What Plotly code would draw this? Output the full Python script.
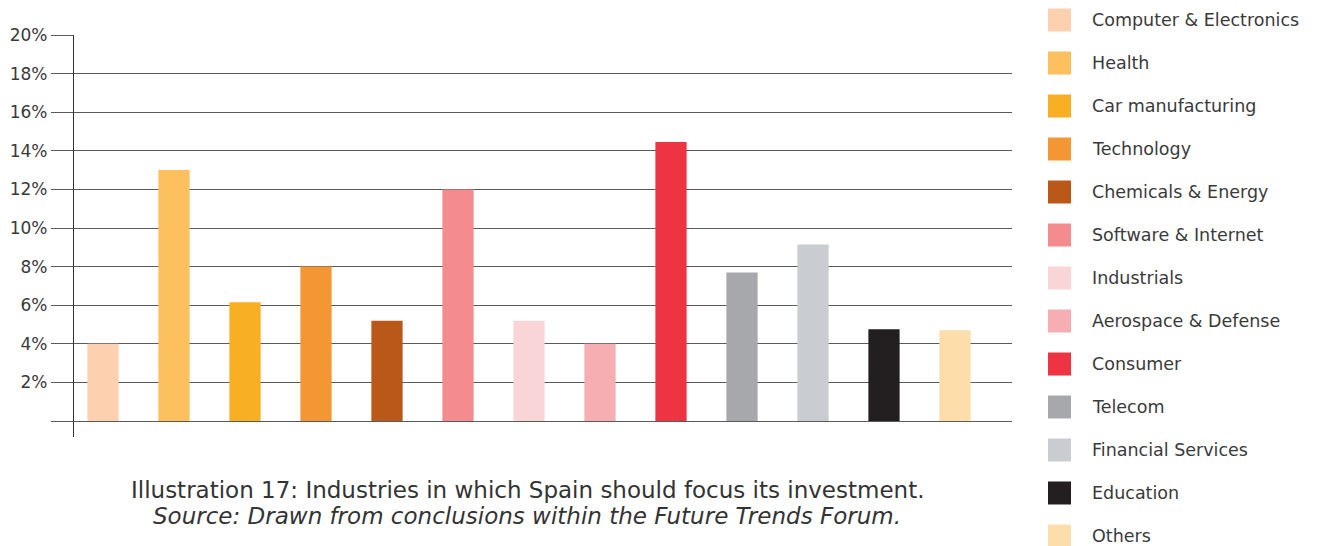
import plotly.graph_objects as go

# Survey share per industry (percent)
industries = [
    "Computer & Electronics", "Health", "Car manufacturing", "Technology",
    "Chemicals & Energy", "Software & Internet", "Industrials",
    "Aerospace & Defense", "Consumer", "Telecom", "Financial Services",
    "Education", "Others",
]
shares = [4.0, 13.0, 6.15, 8.0, 5.2, 12.0, 5.2, 4.0, 14.45, 7.7, 9.15, 4.75, 4.7]
colors = [
    "#FDD1B0", "#FCC05E", "#F8AF24", "#F49633", "#B95818", "#F38B8F",
    "#FAD5D7", "#F6AEB2", "#EE3342", "#A7A8AC", "#C9CCD1", "#231F20", "#FDDEAA",
]
y_ticks = [0, 2, 4, 6, 8, 10, 12, 14, 16, 18, 20]
y_ticktext = ["" if t == 0 else f"{t}%" for t in y_ticks]

positions = list(range(len(industries)))
W, H = 1318, 546
TEXT = "#3a3a3a"
GRID = "#5a5a5a"
CAPTION_FONT = dict(family="DejaVu Sans", size=23, color="#333333")

fig = go.Figure()

fig.add_trace(go.Bar(
    x=positions, y=shares, width=0.44,
    marker=dict(color=colors, line=dict(width=0)),
    showlegend=False, hoverinfo="skip",
))

# Legend column: swatches on their own hidden axes, labels as annotations
fig.add_trace(go.Scatter(
    x=[29.5] * len(industries), y=positions, mode="markers",
    marker=dict(symbol="square", size=23, color=colors, line=dict(width=0)),
    xaxis="x2", yaxis="y2", showlegend=False, hoverinfo="skip",
))
legend_labels = [
    dict(text=name, xref="x2", yref="y2", x=60, y=pos,
         xanchor="left", yanchor="middle", showarrow=False,
         font=dict(family="DejaVu Sans", size=17.5, color=TEXT))
    for name, pos in zip(industries, positions)
]

px_left, px_right = 74, 1012
px_top, px_bottom = 35, 437

captions = [
    dict(text="Illustration 17: Industries in which Spain should focus its investment.",
         xref="paper", yref="paper", x=527 / W, y=(H - 490) / H,
         xanchor="center", yanchor="middle", showarrow=False, font=CAPTION_FONT),
    dict(text="<i>Source: Drawn from conclusions within the Future Trends Forum.</i>",
         xref="paper", yref="paper", x=527 / W, y=(H - 516) / H,
         xanchor="center", yanchor="middle", showarrow=False, font=CAPTION_FONT),
]

fig.update_layout(
    width=W, height=H,
    margin=dict(l=0, r=0, t=0, b=0, autoexpand=False),
    paper_bgcolor="white", plot_bgcolor="white",
    xaxis=dict(
        domain=[px_left / W, px_right / W],
        range=[(px_left - 103) / 71, (px_right - 103) / 71],
        showgrid=False, zeroline=False, showticklabels=False, ticks="",
        automargin=False, fixedrange=True,
    ),
    yaxis=dict(
        domain=[(H - px_bottom) / H, (H - px_top) / H],
        range=[-(437 - 421) / 19.3, 20],
        tickvals=y_ticks, ticktext=y_ticktext,
        showgrid=True, gridcolor=GRID, gridwidth=1.3,
        zeroline=False,
        showline=True, linecolor="#333333", linewidth=1.2,
        ticks="outside", ticklen=22, tickcolor=GRID, tickwidth=1.3,
        tickfont=dict(family="DejaVu Sans", size=17, color=TEXT),
        automargin=False,
    ),
    xaxis2=dict(domain=[1030 / W, 1], range=[0, 288], visible=False,
                automargin=False, fixedrange=True),
    yaxis2=dict(domain=[0, 1], range=[(H - 20) / 43, -20 / 43], visible=False,
                anchor="x2", automargin=False, fixedrange=True),
    annotations=legend_labels + captions,
)

fig.write_html("out.html")
